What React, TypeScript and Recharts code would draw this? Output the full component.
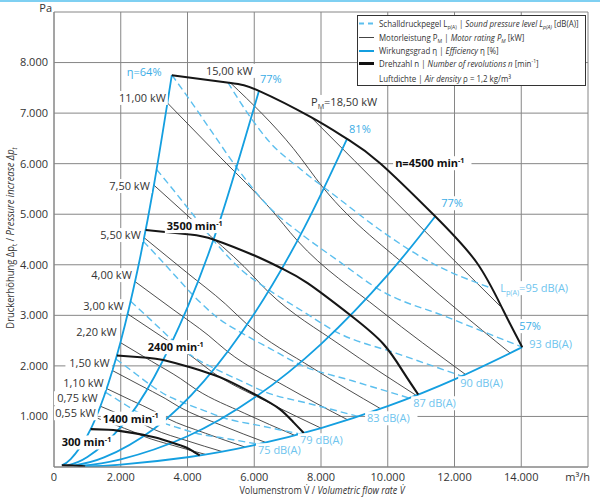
import React from 'react';
import { ComposedChart, Line, Scatter, XAxis, YAxis, CartesianGrid, Legend } from 'recharts';

// axes: volume flow V [m³/h], pressure increase Δp [Pa]
const xTicks = [0, 2000, 4000, 6000, 8000, 10000, 12000, 14000, 16000];
const yTicks = [0, 1000, 2000, 3000, 4000, 5000, 6000, 7000, 8000, 9000];

// speed curves n [min-1]  [V, Δp]
const n4500 = [[3530, 7750], [5240, 7600], [6140, 7440], [7700, 6920], [8780, 6490], [9770, 6010], [11420, 4960], [12680, 4030], [13460, 3100], [14030, 2370]];
const n3500 = [[2746, 4689], [4076, 4598], [4776, 4501], [5989, 4187], [6829, 3926], [7599, 3636], [8883, 3001], [9863, 2438], [10469, 1876], [10913, 1434]];
const n2400 = [[1883, 2204], [2795, 2162], [3275, 2116], [4107, 1968], [4683, 1846], [5211, 1709], [6091, 1411], [6763, 1146], [7179, 882], [7483, 674]];
const n1400 = [[1098, 750], [1630, 736], [1910, 720], [2396, 670], [2732, 628], [3040, 582], [3553, 480], [3945, 390], [4188, 300], [4365, 229]];
const n300 = [[235, 34], [409, 33], [585, 29], [761, 22], [935, 10]];

// efficiency lines η [%]
const eta64 = [[235, 34], [500, 156], [1000, 622], [1500, 1400], [2000, 2488], [2500, 3888], [3000, 5598], [3530, 7750]];
const eta77a = [[409, 33], [1000, 197], [2000, 789], [3000, 1776], [4000, 3157], [5000, 4933], [6140, 7438]];
const eta81 = [[585, 29], [1500, 189], [3000, 758], [4500, 1705], [6000, 3031], [7500, 4736], [8780, 6491]];
const eta77b = [[761, 22], [2000, 152], [4000, 608], [6000, 1368], [8000, 2432], [10000, 3800], [11420, 4956]];
const eta57 = [[935, 10], [2000, 48], [4000, 193], [6000, 433], [8000, 771], [10000, 1204], [12000, 1734], [14030, 2370]];

// motor rating P_M [kW]
const p18_5 = [[7700, 6920], [9000, 6060], [10590, 5010], [12000, 4080], [13370, 3180]];
const p15 = [[5300, 7590], [7176, 6297], [8075, 5516], [10836, 3816], [13663, 2257]];
const p11 = [[3400, 7200], [5000, 6115], [6471, 5119], [7281, 4485], [9771, 3103], [12320, 1835]];
const p7_5 = [[2992, 5576], [4400, 4736], [5694, 3965], [6407, 3474], [8598, 2403], [10842, 1421]];
const p5_5 = [[2699, 4536], [3969, 3852], [5136, 3225], [5779, 2826], [7755, 1955], [9778, 1156]];
const p4_0 = [[2427, 3668], [3569, 3115], [4618, 2608], [5197, 2285], [6974, 1581], [8793, 935]];
const p3_0 = [[2205, 3029], [3243, 2573], [4197, 2153], [4722, 1887], [6338, 1305], [7991, 772]];
const p2_2 = [[1988, 2462], [2924, 2091], [3784, 1751], [4258, 1534], [5714, 1061], [7205, 628]];
const p1_5 = [[1750, 1908], [2574, 1620], [3331, 1356], [3748, 1189], [5030, 822], [6342, 486]];
const p1_1 = [[1578, 1551], [2321, 1317], [3004, 1103], [3380, 966], [4536, 668], [5719, 395]];
const p0_75 = [[1389, 1202], [2043, 1021], [2644, 855], [2975, 749], [3992, 518], [5034, 306]];
const p0_55 = [[1253, 977], [1842, 830], [2384, 695], [2682, 609], [3600, 421], [4539, 249]];

// sound pressure level Lp(A) [dB(A)]
const db95 = [[5210, 7608], [5800, 7000], [6471, 6420], [7371, 5900], [8571, 5290], [9771, 4687], [11271, 4053], [13101, 3539]];
const db93 = [[3530, 7756], [4131, 7202], [4731, 6628], [5571, 5836], [6471, 5123], [7371, 4628], [8571, 4053], [9771, 3499], [11781, 2964], [14031, 2370]];
const db90 = [[3075, 5884], [3598, 5463], [4121, 5028], [4852, 4427], [5636, 3886], [6420, 3511], [7465, 3075], [8511, 2654], [10261, 2249], [12221, 1798]];
const db87 = [[2678, 4463], [3134, 4144], [3589, 3814], [4226, 3358], [4909, 2948], [5592, 2663], [6502, 2332], [7412, 2013], [8937, 1706], [10644, 1364]];
const db83 = [[2295, 3277], [2685, 3043], [3075, 2800], [3621, 2466], [4206, 2164], [4791, 1955], [5571, 1712], [6351, 1478], [7658, 1252], [9120, 1001]];
const db79 = [[1853, 2136], [2168, 1983], [2483, 1825], [2924, 1607], [3396, 1411], [3868, 1275], [4498, 1116], [5128, 964], [6183, 816], [7363, 653]];
const db75 = [[1541, 1478], [1803, 1372], [2065, 1263], [2432, 1112], [2825, 976], [3217, 882], [3741, 772], [4265, 667], [5142, 565], [6124, 451]];

// labels: anchor point [V, Δp] and text parts
const effLabels = [
  { q: 2181, p: 7815, parts: [['η=64%']] },
  { q: 6171, p: 7675, parts: [['77%']] },
  { q: 8841, p: 6683, parts: [['81%']] },
  { q: 11601, p: 5217, parts: [['77%']] },
  { q: 13941, p: 2786, parts: [['57%']] },
];
const speedLabels = [
  { q: 10221, p: 6009, parts: [['n=4500 min'], ['-1', 'sup']] },
  { q: 3381, p: 4765, parts: [['3500 min'], ['-1', 'sup']] },
  { q: 2811, p: 2370, parts: [['2400 min'], ['-1', 'sup']] },
  { q: 1461, p: 956, parts: [['1400 min'], ['-1', 'sup']] },
  { q: 231, p: 485, parts: [['300 min'], ['-1', 'sup']] },
];
const powerLabels = [
  { q: 3351, p: 7300, parts: [['11,00 kW']] },
  { q: 2871, p: 5558, parts: [['7,50 kW']] },
  { q: 2601, p: 4588, parts: [['5,50 kW']] },
  { q: 2331, p: 3796, parts: [['4,00 kW']] },
  { q: 2091, p: 3182, parts: [['3,00 kW']] },
  { q: 1881, p: 2668, parts: [['2,20 kW']] },
  { q: 1671, p: 2053, parts: [['1,50 kW']] },
  { q: 1491, p: 1657, parts: [['1,10 kW']] },
  { q: 1311, p: 1360, parts: [['0,75 kW']] },
  { q: 1251, p: 1063, parts: [['0,55 kW']] },
];
const motorLabels = [
  { q: 4551, p: 7835, parts: [['15,00 kW']] },
  { q: 7701, p: 7221, parts: [['P'], ['M', 'sub'], ['=18,50 kW']] },
];
const soundLabels = [
  { q: 13371, p: 3538, parts: [['L'], ['p(A)', 'sub'], ['=95 dB(A)']] },
  { q: 14241, p: 2429, parts: [['93 dB(A)']] },
  { q: 12171, p: 1657, parts: [['90 dB(A)']] },
  { q: 10761, p: 1261, parts: [['87 dB(A)']] },
  { q: 9381, p: 964, parts: [['83 dB(A)']] },
  { q: 7371, p: 529, parts: [['79 dB(A)']] },
  { q: 6111, p: 331, parts: [['75 dB(A)']] },
];

const FONT = '"Open Sans", "Noto Sans", sans-serif';
const GRID = '#868686';
const TXT = '#333';
const BLUE = '#149fe0';
const DASH = '#5cbfee';
const LBL_BLUE = '#3aade6';
const DB_BLUE = '#6ec4ee';

const pts = (a: number[][]) => a.map(([q, p]) => ({ q, p }));

const spans = (parts: string[][], fs: number) => {
  let shift = 0;
  return parts.map(([s, k = ''], i) => {
    const small = k.includes('sub') || k.includes('sup');
    const target = k.includes('sub') ? fs * 0.3 : k.includes('sup') ? -fs * 0.4 : 0;
    const dy = target - shift;
    shift = target;
    return (
      <tspan key={i} dy={dy || undefined} fontSize={small ? fs * 0.65 : undefined} fontStyle={k.includes('i') ? 'italic' : undefined}>
        {s}
      </tspan>
    );
  });
};

const textW = (parts: string[][], fs: number, bold: boolean) =>
  parts.reduce((w, [s, k = '']) => w + s.length * fs * (k.includes('sub') || k.includes('sup') ? 0.38 : bold ? 0.6 : 0.55), 0);

const Tag = (props: any) => {
  const { cx, cy, payload, anchor = 'start', color = TXT, bold = false } = props;
  const fs = 11;
  const w = textW(payload.parts, fs, bold);
  const x0 = anchor === 'end' ? cx - w : cx;
  return (
    <g>
      <rect x={x0 - 2} y={cy - 7} width={w + 4} height={14} fill="#fff" />
      <text x={cx} y={cy} dy="0.35em" textAnchor={anchor} fontSize={fs} fontWeight={bold ? 700 : 400} fill={color} fontFamily={FONT}>
        {spans(payload.parts, fs)}
      </text>
    </g>
  );
};

const fmt = (v: number) => (v === 0 ? '0' : `${v / 1000}.000`);

const XTick = ({ x, y, payload }: any) => {
  const v = payload.value;
  if (v === 16000)
    return <text x={x + 2} y={y - 1.5} dy="0.71em" textAnchor="end" fontSize={11} fill={TXT} fontFamily={FONT}>m³/h</text>;
  return <text x={x} y={y - 1.5} dy="0.71em" textAnchor="middle" fontSize={11} fill={TXT} fontFamily={FONT}>{fmt(v)}</text>;
};

const YTick = ({ x, y, payload }: any) => {
  const v = payload.value;
  if (v === 0) return null;
  if (v === 9000)
    return <text x={x + 6} y={y - 4} dy="0.35em" textAnchor="end" fontSize={11} fill={TXT} fontFamily={FONT}>Pa</text>;
  return <text x={x + 2} y={y} dy="0.35em" textAnchor="end" fontSize={11} fill={TXT} fontFamily={FONT}>{fmt(v)}</text>;
};

// condensed look of the original type: squeeze horizontally
const XTitle = () => (
  <g transform="translate(322,490.5) scale(0.9,1)">
    <text x={0} y={0} dy="0.35em" textAnchor="middle" fontSize={10} fill={TXT} fontFamily={FONT}>
      {spans([['Volumenstrom V̇ / '], ['Volumetric flow rate V̇', 'i']], 10)}
    </text>
  </g>
);

const YTitle = () => (
  <g transform="translate(10,238) rotate(-90) scale(0.9,1)">
    <text x={0} y={0} dy="0.35em" textAnchor="middle" fontSize={10.5} fill={TXT} fontFamily={FONT}>
      {spans([['Druckerhöhung Δp'], ['t', 'sub'], [' / '], ['Pressure increase Δp', 'i'], ['t', 'isub']], 10.5)}
    </text>
  </g>
);

const legendRows = [
  [['Schalldruckpegel L'], ['p(A)', 'sub'], [' | '], ['Sound pressure level L', 'i'], ['p(A)', 'isub'], [' [dB(A)]']],
  [['Motorleistung P'], ['M', 'sub'], [' | '], ['Motor rating P', 'i'], ['M', 'isub'], [' [kW]']],
  [['Wirkungsgrad η | '], ['Efficiency', 'i'], [' η [%]']],
  [['Drehzahl n | '], ['Number of revolutions n', 'i'], [' [min'], ['-1', 'sup'], [']']],
  [['Luftdichte | '], ['Air density', 'i'], [' ρ = 1,2 kg/m³']],
];
const rowY = [8.5, 22.5, 36, 48.5, 64];

const LegendBox = () => (
  <svg width={229} height={71} style={{ display: 'block' }}>
    <rect x={0.5} y={0.5} width={228} height={70} fill="#fff" stroke="#333" />
    <line x1={2} x2={17} y1={rowY[0]} y2={rowY[0]} stroke={DASH} strokeWidth={2} strokeDasharray="5 4" />
    <line x1={2} x2={17} y1={rowY[1]} y2={rowY[1]} stroke="#444" strokeWidth={1} />
    <line x1={2} x2={17} y1={rowY[2]} y2={rowY[2]} stroke={BLUE} strokeWidth={2} />
    <line x1={2} x2={17} y1={rowY[3]} y2={rowY[3]} stroke="#111" strokeWidth={3} />
    {legendRows.map((r, i) => (
      <g key={i} transform={`translate(22,${rowY[i]}) scale(0.88,1)`}>
        <text x={0} y={0} dy="0.35em" fontSize={9} fill={TXT} fontFamily={FONT}>
          {spans(r, 9)}
        </text>
      </g>
    ))}
  </svg>
);

const powerLines = [p18_5, p15, p11, p7_5, p5_5, p4_0, p3_0, p2_2, p1_5, p1_1, p0_75, p0_55];
const soundLines = [db95, db93, db90, db87, db83, db79, db75];
const effLines = [eta64, eta77a, eta81, eta77b, eta57];
const speedLines = [n4500, n3500, n2400, n1400, n300];

export default function App() {
  return (
    <div style={{ position: 'absolute', left: 0, top: 0, width: 600, height: 498, background: '#fff' }}>
      <ComposedChart width={600} height={498} margin={{ top: 12, right: 12, bottom: 11, left: 4 }}>
        <CartesianGrid stroke={GRID} />
        <XAxis dataKey="q" type="number" domain={[0, 16000]} ticks={xTicks} interval={0} height={20} tickLine={false}
          axisLine={{ stroke: GRID }} tick={<XTick />} allowDataOverflow label={{ content: () => <XTitle /> }} />
        <YAxis dataKey="p" type="number" domain={[0, 9000]} ticks={yTicks} interval={0} width={50} tickLine={false}
          axisLine={{ stroke: GRID }} tick={<YTick />} allowDataOverflow label={{ content: () => <YTitle /> }} />
        <Legend content={() => <LegendBox />} layout="vertical" align="center" verticalAlign="middle"
          wrapperStyle={{ left: 357, top: 15, width: 229, height: 71 }} />
        {powerLines.map((d, i) => (
          <Line key={'pw' + i} data={pts(d)} dataKey="p" type="monotone" stroke="#3a3a3a" strokeWidth={0.9}
            dot={false} activeDot={false} isAnimationActive={false} legendType="none" />
        ))}
        {soundLines.map((d, i) => (
          <Line key={'db' + i} data={pts(d)} dataKey="p" type="monotone" stroke={DASH} strokeWidth={1.4} strokeDasharray="7 4"
            dot={false} activeDot={false} isAnimationActive={false} legendType="none" />
        ))}
        {effLines.map((d, i) => (
          <Line key={'eta' + i} data={pts(d)} dataKey="p" type="natural" stroke={BLUE} strokeWidth={1.8}
            dot={false} activeDot={false} isAnimationActive={false} legendType="none" />
        ))}
        {speedLines.map((d, i) => (
          <Line key={'n' + i} data={pts(d)} dataKey="p" type="natural" stroke="#161616" strokeWidth={i === 0 ? 2 : 2.1}
            dot={false} activeDot={false} isAnimationActive={false} legendType="none" />
        ))}
        <Scatter data={powerLabels} isAnimationActive={false} legendType="none" shape={(p: any) => <Tag {...p} anchor="end" />} />
        <Scatter data={motorLabels} isAnimationActive={false} legendType="none" shape={(p: any) => <Tag {...p} />} />
        <Scatter data={effLabels} isAnimationActive={false} legendType="none" shape={(p: any) => <Tag {...p} color={LBL_BLUE} />} />
        <Scatter data={soundLabels} isAnimationActive={false} legendType="none" shape={(p: any) => <Tag {...p} color={DB_BLUE} />} />
        <Scatter data={speedLabels} isAnimationActive={false} legendType="none" shape={(p: any) => <Tag {...p} bold color="#111" />} />
      </ComposedChart>
      <div style={{ position: 'absolute', left: 0, top: 0, width: 600, height: 2, background: '#7fd0f2' }} />
    </div>
  );
}
